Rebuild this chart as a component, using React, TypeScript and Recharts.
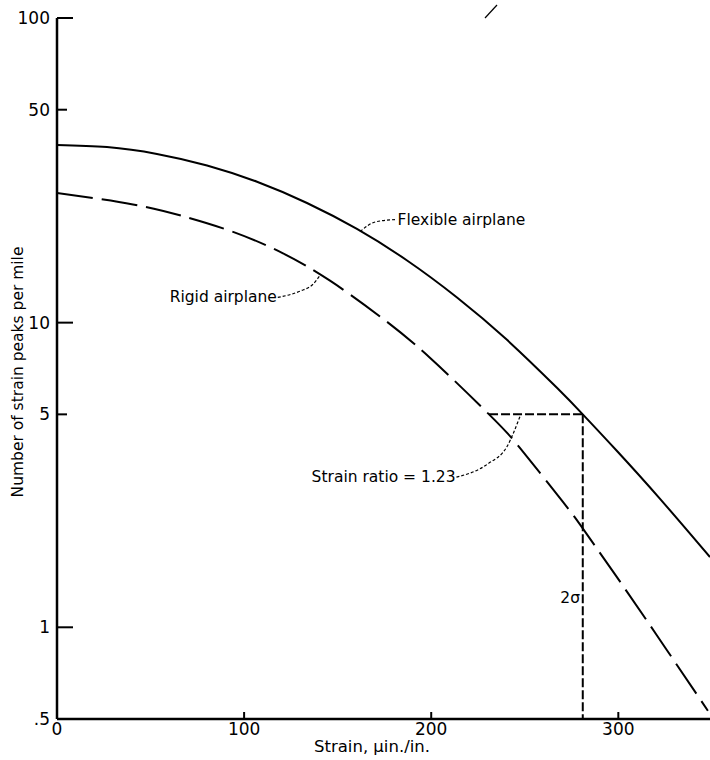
import { LineChart, Line, XAxis, YAxis, ReferenceLine, ReferenceDot } from "recharts";

// strain in micro-in./in., peaks per mile
const flexStrain = [0, 26.7, 53.4, 80.2, 106.9, 133.6, 160.3, 187.1, 213.8, 240.5, 267.2, 281.0, 299.3, 322.3, 349];
const flexPeaks = [38.3, 37.7, 35.8, 32.8, 29.0, 24.7, 20.3, 16.0, 12.1, 8.78, 6.11, 5.0, 3.79, 2.64, 1.7];

const rigidStrain = [0, 40.6, 67.3, 94.1, 120.8, 145.9, 172.6, 199.3, 230.9, 247.5, 270.4, 282.2, 304.6, 326, 347.9];
const rigidPeaks = [26.65, 24.44, 22.36, 19.86, 16.88, 13.73, 10.48, 7.67, 5.0, 3.875, 2.58, 2.06, 1.31, 0.841, 0.532];

const xTicks = [0, 100, 200, 300];
const yTicks = [0.5, 1, 5, 10, 50, 100];

// strain at 5 peaks per mile for each airplane
const rigidAt5 = 230.9;
const flexAt5 = 281.0;

// leader lines (strain, peaks)
const flexLeaderX = [162, 170, 181];
const flexLeaderY = [19.9, 21.4, 21.8];
const rigidLeaderX = [118, 130, 137, 140.6];
const rigidLeaderY = [12.1, 12.7, 13.4, 14.3];
const ratioLeaderX = [213.5, 230, 240.6, 247.6];
const ratioLeaderY = [3.11, 3.43, 3.93, 4.95];

const zip = (xs: number[], ys: number[]) => xs.map((x, i) => ({ x, y: ys[i] }));

const flexData = zip(flexStrain, flexPeaks);
const rigidData = zip(rigidStrain, rigidPeaks);

const FONT = "'DejaVu Sans', sans-serif";

const YTick = ({ x, y, payload }: any) => {
  const v = payload.value;
  const len = v === 0.5 ? 0 : v === 5 || v === 50 ? 10 : 16;
  const label = v === 0.5 ? ".5" : String(v);
  return (
    <g>
      <line x1={x} x2={x + len} y1={y} y2={y} stroke="#000" strokeWidth={2} />
      <text x={x - 7} y={y} dy={6} textAnchor="end" fontSize={17} fontFamily={FONT} fill="#000">
        {label}
      </text>
    </g>
  );
};

const XTick = ({ x, y, payload }: any) => {
  const v = payload.value;
  return (
    <g>
      {v !== 0 && <line x1={x} x2={x} y1={y} y2={y - 7} stroke="#000" strokeWidth={2} />}
      <text x={x} y={y} dy={16} textAnchor="middle" fontSize={17} fontFamily={FONT} fill="#000">
        {v}
      </text>
    </g>
  );
};

const textLabel = (value: string, anchor: "start" | "end" | "middle") => (props: any) => {
  const { viewBox } = props;
  const cx = viewBox.x + viewBox.width / 2;
  const cy = viewBox.y + viewBox.height / 2;
  return (
    <text x={cx} y={cy} dy={5} textAnchor={anchor} fontSize={15.5} fontFamily={FONT} fill="#000">
      {value}
    </text>
  );
};

export default function App() {
  return (
    <div style={{ position: "absolute", left: 0, top: 0, width: 710, height: 760, background: "#fff" }}>
      <svg width={710} height={30} style={{ position: "absolute", left: 0, top: 0 }}>
        <line x1={485} y1={18} x2={497} y2={5} stroke="#000" strokeWidth={1.2} />
      </svg>
      <LineChart width={710} height={760} margin={{ top: 18, right: 0, left: 17, bottom: 11 }}>
        <XAxis
          type="number"
          dataKey="x"
          domain={[0, 349]}
          ticks={xTicks}
          allowDataOverflow
          height={30}
          tickSize={0}
          tickMargin={0}
          tick={<XTick />}
          axisLine={{ stroke: "#000", strokeWidth: 2.5 }}
          tickLine={false}
          label={(p: any) => (
            <text x={372} y={p.viewBox.y + 33} textAnchor="middle" fontSize={16.5} fontFamily={FONT} fill="#000">
              Strain, μin./in.
            </text>
          )}
        />
        <YAxis
          type="number"
          dataKey="y"
          scale="log"
          domain={[0.5, 100]}
          ticks={yTicks}
          allowDataOverflow
          width={40}
          tickSize={0}
          tickMargin={0}
          tick={<YTick />}
          axisLine={{ stroke: "#000", strokeWidth: 2.5 }}
          tickLine={false}
          label={() => (
            <text
              x={18}
              y={372}
              transform="rotate(-90 18 372)"
              textAnchor="middle"
              dominantBaseline="middle"
              fontSize={15.5}
              fontFamily={FONT}
              fill="#000"
            >
              Number of strain peaks per mile
            </text>
          )}
        />
        <ReferenceLine
          segment={[{ x: rigidAt5, y: 5 }, { x: flexAt5, y: 5 }]}
          stroke="#000"
          strokeWidth={2}
          strokeDasharray="9 3"
        />
        <ReferenceLine
          segment={[{ x: flexAt5, y: 5 }, { x: flexAt5, y: 0.5 }]}
          stroke="#000"
          strokeWidth={2}
          strokeDasharray="9 3"
        />
        <Line data={flexData} dataKey="y" type="natural" stroke="#000" strokeWidth={2} dot={false} isAnimationActive={false} />
        <Line
          data={rigidData}
          dataKey="y"
          type="natural"
          stroke="#000"
          strokeWidth={2}
          strokeDasharray="36 9"
          dot={false}
          isAnimationActive={false}
        />
        <Line data={zip(flexLeaderX, flexLeaderY)} dataKey="y" type="monotone" stroke="#000" strokeWidth={1.2} strokeDasharray="3 2" dot={false} isAnimationActive={false} />
        <Line data={zip(rigidLeaderX, rigidLeaderY)} dataKey="y" type="monotone" stroke="#000" strokeWidth={1.2} strokeDasharray="3 2" dot={false} isAnimationActive={false} />
        <Line data={zip(ratioLeaderX, ratioLeaderY)} dataKey="y" type="monotone" stroke="#000" strokeWidth={1.2} strokeDasharray="3 2" dot={false} isAnimationActive={false} />
        <ReferenceDot x={182} y={21.8} r={0} label={textLabel("Flexible airplane", "start")} />
        <ReferenceDot x={117.5} y={12.1} r={0} label={textLabel("Rigid airplane", "end")} />
        <ReferenceDot x={213} y={3.11} r={0} label={textLabel("Strain ratio = 1.23", "end")} />
        <ReferenceDot x={279.5} y={1.25} r={0} label={textLabel("2σ", "end")} />
      </LineChart>
    </div>
  );
}
